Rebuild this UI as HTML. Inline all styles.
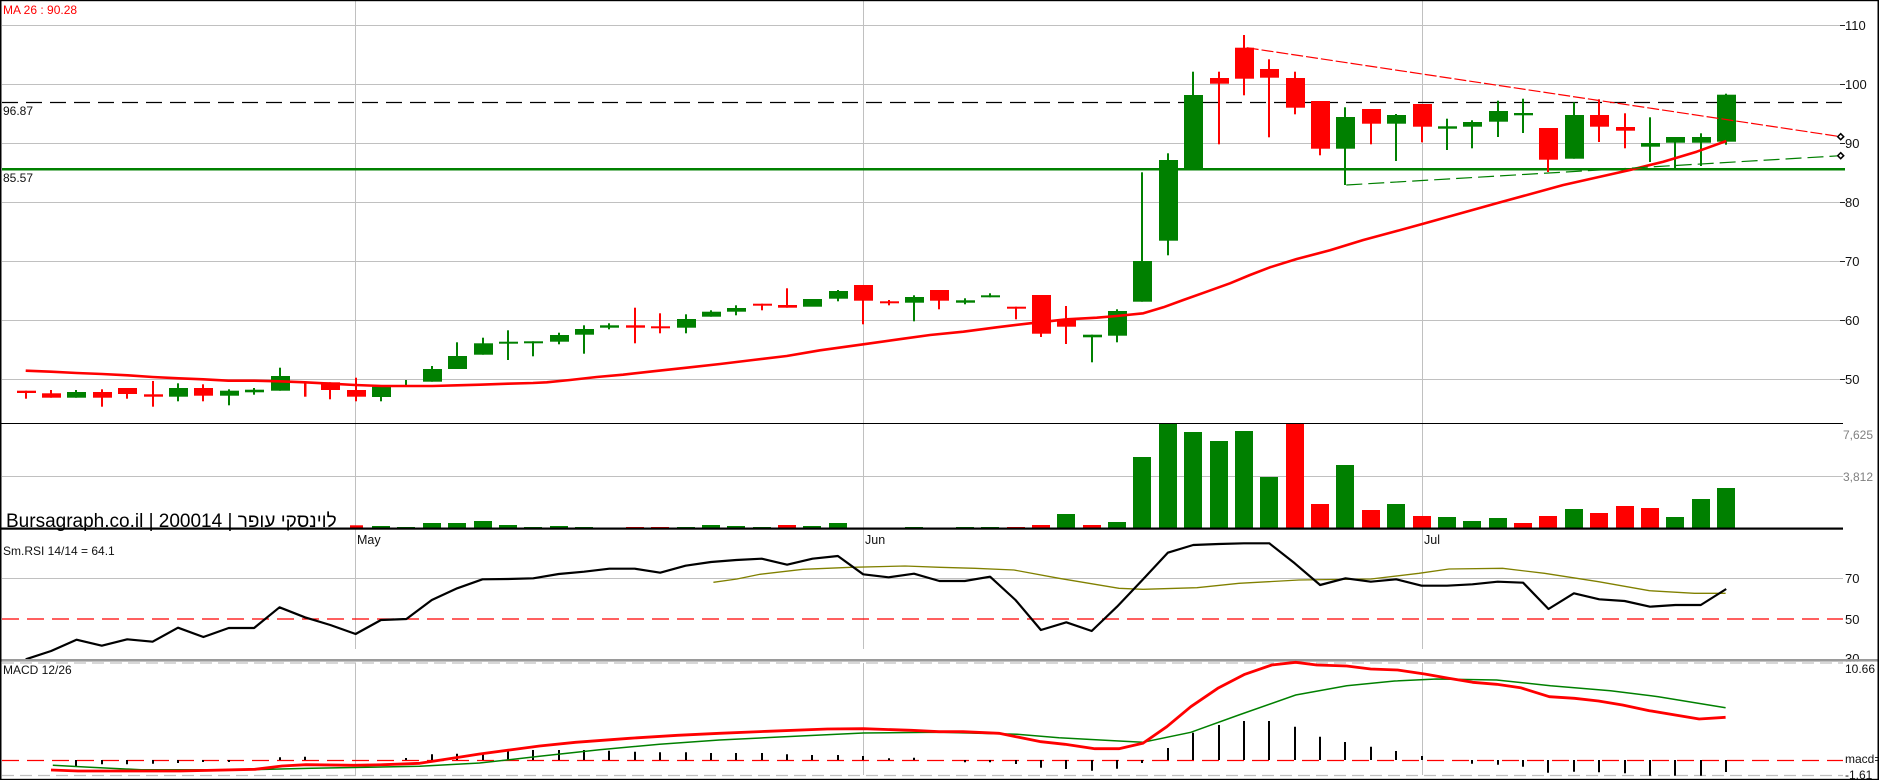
<!DOCTYPE html>
<html><head><meta charset="utf-8"><style>
html,body{margin:0;padding:0;background:#fff;}
svg{display:block;}
text{font-family:"Liberation Sans","DejaVu Sans",Arial,sans-serif;}
</style></head><body>
<svg width="1879" height="780" viewBox="0 0 1879 780" xmlns="http://www.w3.org/2000/svg">
<rect x="0" y="0" width="1879" height="780" fill="#fff"/>
<!-- horizontal grid -->
<g stroke="#c0c0c0" stroke-width="1">
<line x1="2" y1="25.5" x2="1843" y2="25.5"/>
<line x1="2" y1="84.5" x2="1843" y2="84.5"/>
<line x1="2" y1="143.5" x2="1843" y2="143.5"/>
<line x1="2" y1="202.5" x2="1843" y2="202.5"/>
<line x1="2" y1="261.5" x2="1843" y2="261.5"/>
<line x1="2" y1="320.5" x2="1843" y2="320.5"/>
<line x1="2" y1="379.5" x2="1843" y2="379.5"/>
<line x1="2" y1="476.5" x2="1843" y2="476.5"/>
<line x1="2" y1="578.5" x2="1843" y2="578.5"/>
<!-- vertical grid -->
<line x1="355.5" y1="1" x2="355.5" y2="649"/>
<line x1="863.5" y1="1" x2="863.5" y2="649"/>
<line x1="1422.5" y1="1" x2="1422.5" y2="649"/>
<line x1="355.5" y1="663" x2="355.5" y2="775"/>
<line x1="863.5" y1="663" x2="863.5" y2="775"/>
<line x1="1422.5" y1="663" x2="1422.5" y2="775"/>
</g>
<!-- axis ticks -->
<g stroke="#222" stroke-width="1">
<line x1="1840" y1="25.5" x2="1845" y2="25.5"/>
<line x1="1840" y1="84.5" x2="1845" y2="84.5"/>
<line x1="1840" y1="143.5" x2="1845" y2="143.5"/>
<line x1="1840" y1="202.5" x2="1845" y2="202.5"/>
<line x1="1840" y1="261.5" x2="1845" y2="261.5"/>
<line x1="1840" y1="320.5" x2="1845" y2="320.5"/>
<line x1="1840" y1="379.5" x2="1845" y2="379.5"/>
</g>
<!-- 96.87 dashed -->
<line x1="2" y1="102.5" x2="1843" y2="102.5" stroke="#000" stroke-width="1.3" stroke-dasharray="16,8"/>
<!-- 85.57 green -->
<rect x="2" y="168" width="1843" height="2.5" fill="#008000"/>

<!-- candles green -->
<g fill="#008000">
<rect x="75" y="390" width="2" height="7.7"/><rect x="67" y="392" width="19" height="5.7"/>
<rect x="177" y="383.3" width="2" height="18"/><rect x="169" y="388" width="19" height="8.7"/>
<rect x="228" y="389.3" width="2" height="16"/><rect x="220" y="390.7" width="19" height="5"/>
<rect x="253" y="388" width="2" height="6.7"/><rect x="245" y="389.7" width="19" height="2.6"/>
<rect x="279" y="367.7" width="2" height="23"/><rect x="271" y="376" width="19" height="14.7"/>
<rect x="380" y="386.7" width="2" height="14.6"/><rect x="372" y="386.7" width="19" height="10.3"/>
<rect x="405" y="380" width="2" height="6"/>
<rect x="431" y="366" width="2" height="15.7"/><rect x="423" y="369" width="19" height="12.7"/>
<rect x="456" y="342.3" width="2" height="26.7"/><rect x="448" y="356" width="19" height="13"/>
<rect x="482" y="337.7" width="2" height="17"/><rect x="474" y="343.3" width="19" height="11.4"/>
<rect x="507" y="330.3" width="2" height="29.7"/><rect x="499" y="341.7" width="19" height="2"/>
<rect x="532" y="341.3" width="2" height="15"/><rect x="524" y="341.3" width="19" height="2"/>
<rect x="558" y="332.7" width="2" height="11.6"/><rect x="550" y="335" width="19" height="6.7"/>
<rect x="583" y="325.3" width="2" height="28.4"/><rect x="575" y="329" width="19" height="5.7"/>
<rect x="608" y="323.3" width="2" height="6"/><rect x="600" y="325.3" width="19" height="2.4"/>
<rect x="685" y="314.3" width="2" height="19"/><rect x="677" y="319" width="19" height="8.7"/>
<rect x="710" y="310.3" width="2" height="6.4"/><rect x="702" y="311.7" width="19" height="5"/>
<rect x="735" y="305.3" width="2" height="10"/><rect x="727" y="308" width="19" height="3.7"/>
<rect x="803" y="299" width="19" height="7.7"/>
<rect x="837" y="290" width="2" height="11.3"/><rect x="829" y="291" width="19" height="7.7"/>
<rect x="913" y="295.3" width="2" height="26"/><rect x="905" y="297" width="19" height="5.7"/>
<rect x="964" y="298.3" width="2" height="6"/><rect x="956" y="300.3" width="19" height="2.4"/>
<rect x="989" y="293.3" width="2" height="4"/><rect x="981" y="295.3" width="19" height="2"/>
<rect x="1091" y="334.7" width="2" height="27.6"/><rect x="1083" y="334.7" width="19" height="2.6"/>
<rect x="1116" y="309.3" width="2" height="33"/><rect x="1108" y="311" width="19" height="24.7"/>
<rect x="1141" y="172.3" width="2" height="129.4"/><rect x="1133" y="261" width="19" height="40.7"/>
<rect x="1167" y="153.3" width="2" height="102"/><rect x="1159" y="160" width="19" height="80.7"/>
<rect x="1192" y="71.7" width="2" height="96.6"/><rect x="1184" y="95" width="19" height="73.3"/>
<rect x="1344" y="107.3" width="2" height="77.7"/><rect x="1336" y="117" width="19" height="31.7"/>
<rect x="1395" y="114" width="2" height="47"/><rect x="1387" y="115" width="19" height="8.7"/>
<rect x="1446" y="118.7" width="2" height="31.3"/><rect x="1438" y="126.3" width="19" height="2.4"/>
<rect x="1471" y="120.3" width="2" height="28"/><rect x="1463" y="122" width="19" height="4.7"/>
<rect x="1497" y="100.7" width="2" height="36.3"/><rect x="1489" y="111" width="19" height="10.7"/>
<rect x="1522" y="98.7" width="2" height="34.3"/><rect x="1514" y="113" width="19" height="2.3"/>
<rect x="1573" y="102.3" width="2" height="56.4"/><rect x="1565" y="115" width="19" height="43.7"/>
<rect x="1649" y="117.3" width="2" height="44.7"/><rect x="1641" y="143" width="19" height="3.7"/>
<rect x="1674" y="137" width="2" height="31.7"/><rect x="1666" y="137" width="19" height="5.7"/>
<rect x="1700" y="133.3" width="2" height="32.7"/><rect x="1692" y="137" width="19" height="5.7"/>
<rect x="1725" y="93.7" width="2" height="51"/><rect x="1717" y="94.7" width="19" height="47"/>
</g>
<!-- candles red -->
<g fill="#ff0000">
<rect x="25" y="390.7" width="2" height="8"/><rect x="17" y="390.7" width="19" height="2.3"/>
<rect x="50" y="390" width="2" height="7.7"/><rect x="42" y="393.3" width="19" height="4.4"/>
<rect x="101" y="389.3" width="2" height="17.4"/><rect x="93" y="392" width="19" height="5.7"/>
<rect x="126" y="388" width="2" height="10.7"/><rect x="118" y="388" width="19" height="6"/>
<rect x="152" y="381" width="2" height="25.7"/><rect x="144" y="394.3" width="19" height="2.4"/>
<rect x="202" y="384.3" width="2" height="17"/><rect x="194" y="388" width="19" height="7.7"/>
<rect x="304" y="382.7" width="2.5" height="14"/>
<rect x="329" y="382.3" width="2" height="17"/><rect x="321" y="382.3" width="19" height="7.7"/>
<rect x="355" y="377.7" width="2" height="23.6"/><rect x="347" y="390" width="19" height="6.7"/>
<rect x="634" y="307.7" width="2" height="35.6"/><rect x="626" y="325.3" width="19" height="2.4"/>
<rect x="659" y="313.3" width="2" height="20"/><rect x="651" y="326.3" width="19" height="2"/>
<rect x="761" y="303.7" width="2" height="6.6"/><rect x="753" y="303.7" width="19" height="2"/>
<rect x="786" y="288.3" width="2" height="19.4"/><rect x="778" y="305" width="19" height="2.7"/>
<rect x="862" y="285" width="2" height="39.3"/><rect x="854" y="285" width="19" height="15.7"/>
<rect x="888" y="300" width="2" height="5.3"/><rect x="880" y="301.3" width="19" height="2"/>
<rect x="938" y="290" width="2" height="19.3"/><rect x="930" y="290" width="19" height="10.7"/>
<rect x="1015" y="306.7" width="2" height="12.6"/><rect x="1007" y="306.7" width="19" height="2"/>
<rect x="1040" y="295" width="2" height="42"/><rect x="1032" y="295" width="19" height="38.7"/>
<rect x="1065" y="306" width="2" height="38"/><rect x="1057" y="319.3" width="19" height="7.4"/>
<rect x="1218" y="71.7" width="2" height="72.6"/><rect x="1210" y="78" width="19" height="5.7"/>
<rect x="1243" y="35" width="2" height="60.3"/><rect x="1235" y="47.7" width="19" height="31"/>
<rect x="1268" y="59.3" width="2" height="78"/><rect x="1260" y="69" width="19" height="8.7"/>
<rect x="1294" y="71.7" width="2" height="42.6"/><rect x="1286" y="78" width="19" height="29.7"/>
<rect x="1319" y="101" width="2" height="54.3"/><rect x="1311" y="101" width="19" height="47.7"/>
<rect x="1370" y="109" width="2" height="35.3"/><rect x="1362" y="109" width="19" height="14.7"/>
<rect x="1421" y="104" width="2" height="38.3"/><rect x="1413" y="104" width="19" height="22.7"/>
<rect x="1547" y="128" width="2" height="44"/><rect x="1539" y="128" width="19" height="31.7"/>
<rect x="1598" y="99.3" width="2" height="42.7"/><rect x="1590" y="115" width="19" height="11.7"/>
<rect x="1624" y="113.3" width="2" height="35"/><rect x="1616" y="127" width="19" height="3.7"/>
</g>

<!-- MA 26 -->
<polyline fill="none" stroke="#ff0000" stroke-width="2.6" stroke-linejoin="round" points="25.7,370.7 51,371.7 76.7,373 102,374 127.7,375.3 152.7,377 178.7,378.3 203.3,379.3 228.3,380.7 254.3,380.7 279.3,381.3 305,382.3 330.7,383.7 355.3,385 381.7,386 406.3,386 432.3,386 457.3,385.3 480,384.7 508,383.7 533,383 546.7,382.3 570,380 596.7,377 623,374.7 653,371.3 686.7,367.7 720,364 753,360 786.7,356 820,350.3 863.3,344.3 903.3,338.7 930,335 963.3,331.7 996.7,327.3 1030,323.3 1066.7,319.3 1096.7,317.7 1116.7,316 1143.3,313.3 1163.3,307.3 1183.3,300 1206.7,291.7 1230,283.3 1250,275 1270,267.3 1296.7,259 1330,250.3 1363.3,240 1396.7,231 1422.3,224 1496.7,203.3 1563.3,185 1630,170 1663.3,161.7 1696.7,151.7 1726.3,141"/>

<!-- trend lines -->
<line x1="1246.7" y1="47.7" x2="1840.7" y2="136.7" stroke="#ff0000" stroke-width="1.2" stroke-dasharray="12,3"/>
<line x1="1346.3" y1="185" x2="1840.7" y2="155.7" stroke="#008000" stroke-width="1.2" stroke-dasharray="16,6"/>
<polygon points="1840.7,133.7 1843.7,136.7 1840.7,139.7 1837.7,136.7" fill="#fff" stroke="#000" stroke-width="1.5"/>
<polygon points="1840.7,152.7 1843.7,155.7 1840.7,158.7 1837.7,155.7" fill="#fff" stroke="#000" stroke-width="1.5"/>

<!-- volume bars -->
<g fill="#008000">
<rect x="372" y="526" width="18" height="2"/><rect x="397" y="527" width="18" height="1"/>
<rect x="423" y="523" width="18" height="5"/><rect x="448" y="523" width="18" height="5"/>
<rect x="474" y="521" width="18" height="7"/><rect x="499" y="525" width="18" height="3"/>
<rect x="524" y="527" width="18" height="1"/><rect x="550" y="526" width="18" height="2"/>
<rect x="575" y="527" width="18" height="1"/><rect x="677" y="527" width="18" height="1"/>
<rect x="702" y="525" width="18" height="3"/><rect x="727" y="526" width="18" height="2"/>
<rect x="753" y="527" width="18" height="1"/><rect x="803" y="526" width="18" height="2"/>
<rect x="829" y="523" width="18" height="5"/><rect x="905" y="527" width="18" height="1"/>
<rect x="956" y="527" width="18" height="1"/><rect x="981" y="527" width="18" height="1"/>
<rect x="1057" y="514" width="18" height="14"/><rect x="1108" y="522" width="18" height="6"/>
<rect x="1133" y="457" width="18" height="71"/><rect x="1159" y="424" width="18" height="104"/>
<rect x="1184" y="432" width="18" height="96"/><rect x="1210" y="441" width="18" height="87"/>
<rect x="1235" y="431" width="18" height="97"/><rect x="1260" y="477" width="18" height="51"/>
<rect x="1336" y="465" width="18" height="63"/><rect x="1387" y="504" width="18" height="24"/>
<rect x="1438" y="517" width="18" height="11"/><rect x="1463" y="521" width="18" height="7"/>
<rect x="1489" y="518" width="18" height="10"/><rect x="1565" y="509" width="18" height="19"/>
<rect x="1666" y="517" width="18" height="11"/><rect x="1692" y="499" width="18" height="29"/>
<rect x="1717" y="488" width="18" height="40"/>
</g>
<g fill="#ff0000">
<rect x="350" y="525.3" width="13" height="3"/>
<rect x="626" y="527" width="18" height="1"/><rect x="651" y="527" width="18" height="1"/>
<rect x="778" y="525" width="18" height="3"/><rect x="1007" y="527" width="18" height="1"/>
<rect x="1032" y="525" width="18" height="3"/><rect x="1083" y="525" width="18" height="3"/>
<rect x="1286" y="424" width="18" height="104"/><rect x="1311" y="504" width="18" height="24"/>
<rect x="1362" y="510" width="18" height="18"/><rect x="1413" y="516" width="18" height="12"/>
<rect x="1514" y="523" width="18" height="5"/><rect x="1539" y="516" width="18" height="12"/>
<rect x="1590" y="513" width="18" height="15"/><rect x="1616" y="506" width="18" height="22"/>
<rect x="1641" y="508" width="18" height="20"/>
</g>

<!-- panel separators -->
<rect x="0" y="423" width="1843" height="1" fill="#000"/>
<rect x="0" y="527.5" width="1843" height="2.2" fill="#000"/>

<!-- RSI -->
<line x1="2" y1="619" x2="1843" y2="619" stroke="#ff0000" stroke-width="1.3" stroke-dasharray="17,8"/>
<polyline fill="none" stroke="#808000" stroke-width="1.3" points="713.4,582.3 737,579 760,574.3 803,569.3 851,567.3 905,566 940,567.3 975,568.3 1014,570 1059,578.3 1119,588.3 1143,589.3 1197,587.7 1239,583.3 1299,580 1371,579 1419,573.3 1449,569 1502.6,568.3 1544.5,573.3 1598.5,581.7 1649.4,590.7 1694.4,593.3 1725.6,593.3"/>
<polyline fill="none" stroke="#000" stroke-width="2.2" stroke-linejoin="round" points="25.7,659.3 51.1,651 76.5,639.7 101.8,645.7 127.2,639.3 152.6,641.7 178,627.7 203.4,637 228.7,628 254.1,628 279.5,607.3 304.9,617.3 330.3,625 355.6,634 381,620 406.4,619 431.8,600 457.2,588.3 482.5,579.3 507.9,579 533.3,578.3 558.7,574 584.1,571.7 609.4,568.7 634.8,568.7 660.2,572.7 685.6,565.7 711,562 736.3,560 761.7,558.7 787.1,564.7 812.5,558.7 837.9,556 863.2,574.3 888.6,577.3 914,573.7 939.4,581 964.8,581 990.1,576.7 1015.5,600 1040.9,630 1066.3,622.3 1091.7,631 1117,606.7 1142.4,580 1167.8,552.7 1193.2,545 1218.6,544 1243.9,543.3 1269.3,543.3 1294.7,563.3 1320.1,585 1345.5,578.3 1370.8,581.7 1396.2,579.3 1421.6,585.7 1447,585.7 1472.4,584.3 1497.7,581.7 1523.1,582.7 1548.5,609 1573.9,593.3 1599.3,599.3 1624.6,601 1650,606.7 1675.4,605 1700.8,605 1726.2,589"/>
<text x="1845" y="663" font-size="13" fill="#111">30</text>

<!-- RSI/MACD separator -->
<rect x="0" y="659" width="1879" height="2.6" fill="#9a9a9a"/>
<rect x="1843" y="661.6" width="34" height="3" fill="#fff"/>
<line x1="2" y1="663" x2="1843" y2="663" stroke="#c0c0c0" stroke-width="1.2" stroke-dasharray="12,6"/>
<line x1="2" y1="775.5" x2="1843" y2="775.5" stroke="#c0c0c0" stroke-width="1.2" stroke-dasharray="12,6"/>

<!-- MACD -->
<line x1="2" y1="760.5" x2="1843" y2="760.5" stroke="#ff0000" stroke-width="1.3" stroke-dasharray="17,8"/>
<path fill="none" stroke="#000" stroke-width="2" d="M76 760V766.7M102 760V764.3M127 760V764.3M153 760V763.7M178 760V763M203 760V762M229 760V762M280 760V757.3M305 760V756.7M406 760V758M432 760V754.3M457 760V753.7M483 760V752.7M508 760V750.7M533 760V750M559 760V750M584 760V750M609 760V750.7M635 760V751.7M660 760V752.3M686 760V752.3M711 760V753M736 760V753M762 760V753M787 760V754.3M812 760V755M838 760V755M863 760V756M889 760V758.3M914 760V757.7M965 760V762.3M990 760V762.3M1016 760V764M1041 760V767.7M1066 760V769M1092 760V770.7M1117 760V768.7M1142 760V763M1168 760V748M1193 760V732.7M1219 760V725M1244 760V721M1269 760V721M1295 760V726.7M1320 760V736.7M1345 760V742M1371 760V746.7M1396 760V751M1422 760V756M1472 760V763.7M1498 760V764.7M1523 760V766.7M1548 760V772.7M1574 760V771.7M1599 760V772.3M1625 760V773.3M1650 760V775.7M1675 760V775.7M1701 760V775.7M1726 760V772"/>
<polyline fill="none" stroke="#008000" stroke-width="1.5" points="52.8,765.3 90,767.3 141,769.7 251.8,769.7 311.8,768.3 419.7,766.3 479.6,763 539.6,756.3 599.5,749.7 659.5,744.3 719.4,740 779.4,737 863.3,733 939,732.3 1017,734.3 1059,737.7 1118.9,741 1142.8,742.3 1190.8,732.3 1238.8,715 1295.7,695 1346.7,685.7 1394.6,681 1436.6,679 1496.6,680 1550.5,685.7 1610.5,690.7 1658.4,696.7 1725.6,707.7"/>
<polyline fill="none" stroke="#ff0000" stroke-width="2.8" stroke-linejoin="round" points="51,770 78,771 180,771 255,769.3 282,766 306,764.7 353.7,765.3 383.7,764.7 419.7,763.3 455.6,757.7 479.6,754 509.6,750 539.6,746 575.5,742.3 629.5,738.3 677.5,735.3 719.4,733.3 767.4,731.3 827.3,729 863.3,728.7 911.3,730.3 939,731.7 963,731.7 999,733.3 1041,741.7 1065,744.3 1094.9,748.7 1118.9,748.7 1142.8,743.3 1166.8,726.7 1190.8,706.7 1217.8,688.3 1244.8,674.3 1271.7,665 1295.7,662.3 1316.7,665 1346.7,666 1370.7,669 1397.6,670 1424.6,674 1448.6,678.3 1472.6,682.3 1496.6,684.3 1520.5,687.7 1549.3,696.7 1574.5,698.3 1598.5,701 1622.5,705 1649.4,710.7 1675.2,715 1699.2,719 1725.6,717.3"/>

<!-- texts -->
<text x="3" y="14" font-size="12" fill="#ff0000">MA 26 : 90.28</text>
<text x="3" y="115" font-size="12" fill="#111">96.87</text>
<text x="3" y="182" font-size="12" fill="#111">85.57</text>
<g font-size="13" fill="#111">
<text x="1845" y="30">110</text>
<text x="1845" y="89">100</text>
<text x="1845" y="148">90</text>
<text x="1845" y="207">80</text>
<text x="1845" y="266">70</text>
<text x="1845" y="325">60</text>
<text x="1845" y="384">50</text>
<text x="1845" y="583">70</text>
<text x="1845" y="624">50</text>
</g>
<g font-size="12" fill="#808080">
<text x="1843" y="439">7,625</text>
<text x="1843" y="481">3,812</text>
</g>
<g font-size="12" fill="#111">
<text x="1845" y="673">10.66</text>
<text x="1845" y="763">macd=</text>
<text x="1845" y="779">-1.61</text>
</g>
<text x="6" y="527" font-size="19" fill="#000">Bursagraph.co.il | 200014 | לוינסקי עופר</text>
<g font-size="12.5" fill="#111">
<text x="357" y="544">May</text>
<text x="865" y="544">Jun</text>
<text x="1424" y="544">Jul</text>
</g>
<text x="3" y="555" font-size="12" fill="#111">Sm.RSI 14/14 = 64.1</text>
<text x="3" y="674" font-size="12" fill="#111">MACD 12/26</text>

<!-- borders -->
<rect x="0" y="0" width="1879" height="1.2" fill="#000"/>
<rect x="0" y="0" width="1.5" height="780" fill="#000"/>
<rect x="1877.5" y="0" width="1.5" height="780" fill="#000"/>
<rect x="0" y="778.8" width="1879" height="1.2" fill="#000"/>
</svg>
</body></html>
